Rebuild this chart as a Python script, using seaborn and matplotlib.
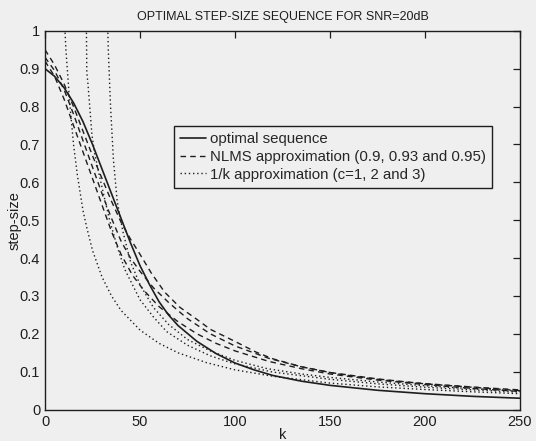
import matplotlib
matplotlib.use("Agg")
import matplotlib.pyplot as plt
import seaborn as sns

# optimal step-size sequence (solid)
k_opt = [0, 5, 10, 15, 20, 25, 30, 35, 40, 45, 50, 55, 60, 65, 70, 80, 90,
         100, 110, 120, 135, 150, 175, 200, 225, 250]
mu_opt = [0.90, 0.88, 0.85, 0.81, 0.76, 0.70, 0.635, 0.57, 0.505, 0.44, 0.38,
          0.33, 0.285, 0.25, 0.222, 0.18, 0.148, 0.123, 0.105, 0.09, 0.075,
          0.064, 0.051, 0.042, 0.035, 0.030]

# NLMS approximations (dashed)
k_n1 = [0, 5, 10, 15, 20, 25, 30, 35, 40, 45, 50, 56, 63, 71, 80, 87, 100,
        111, 120, 135, 153, 170, 188, 210, 230, 250]
mu_n1 = [0.95, 0.91, 0.86, 0.80, 0.735, 0.67, 0.61, 0.55, 0.495, 0.45, 0.41,
         0.36, 0.31, 0.27, 0.238, 0.212, 0.18, 0.152, 0.134, 0.113, 0.095,
         0.083, 0.073, 0.065, 0.058, 0.052]
k_n2 = [0, 5, 10, 15, 20, 25, 30, 35, 40, 45, 50, 57, 65, 75, 87, 100, 118,
        135, 150, 175, 200, 225, 250]
mu_n2 = [0.93, 0.895, 0.845, 0.78, 0.71, 0.64, 0.57, 0.505, 0.445, 0.40,
         0.365, 0.322, 0.283, 0.24, 0.20, 0.168, 0.135, 0.113, 0.098, 0.081,
         0.068, 0.059, 0.050]
k_n3 = [0, 5, 10, 15, 20, 25, 30, 35, 40, 46, 52, 60, 70, 80, 90, 100, 118,
        135, 150, 175, 200, 225, 250]
mu_n3 = [0.92, 0.88, 0.82, 0.75, 0.68, 0.61, 0.54, 0.47, 0.41, 0.355, 0.315,
         0.272, 0.232, 0.2, 0.175, 0.155, 0.127, 0.108, 0.094, 0.078, 0.066,
         0.056, 0.048]

# 1/k approximations (dotted)
k_c1 = [10, 11, 12, 13, 15, 17, 20, 22, 25, 30, 35, 40, 50, 60, 70, 85, 100,
        120, 150, 175, 200, 225, 250]
mu_c1 = [1.05, 0.95, 0.88, 0.81, 0.70, 0.62, 0.525, 0.48, 0.42, 0.35, 0.30,
         0.262, 0.21, 0.175, 0.15, 0.124, 0.105, 0.088, 0.07, 0.06, 0.053,
         0.047, 0.042]
k_c2 = [21.7, 22, 22.6, 24.7, 26, 28.5, 31, 34, 38, 42, 50, 57, 64, 75, 87,
        99, 120, 150, 175, 200, 225, 250]
mu_c2 = [1.05, 0.89, 0.86, 0.725, 0.68, 0.62, 0.565, 0.50, 0.43, 0.37, 0.29,
         0.245, 0.206, 0.17, 0.142, 0.122, 0.099, 0.08, 0.068, 0.059, 0.052,
         0.046]
k_c3 = [32.8, 33.3, 34.5, 36, 38, 41, 45, 50, 57, 65, 75, 87, 100, 117, 135,
        150, 175, 200, 225, 250]
mu_c3 = [1.05, 0.95, 0.80, 0.66, 0.55, 0.47, 0.39, 0.33, 0.27, 0.225, 0.185,
         0.155, 0.13, 0.108, 0.094, 0.085, 0.073, 0.063, 0.055, 0.049]

sns.set_theme(style="white")
plt.rcParams["font.family"] = ["Liberation Sans", "DejaVu Sans"]

bg = "#efefef"
fig = plt.figure(figsize=(5.36, 4.41), dpi=100, facecolor=bg)
ax = fig.add_axes([0.084, 0.0712, 0.886, 0.859], facecolor=bg)

ink = "#1e1e1e"
sns.lineplot(x=k_opt, y=mu_opt, ax=ax, color=ink, lw=1.2,
             label="optimal sequence")
for i, (kk, mm) in enumerate([(k_n1, mu_n1), (k_n2, mu_n2), (k_n3, mu_n3)]):
    sns.lineplot(x=kk, y=mm, ax=ax, color=ink, lw=1.0, linestyle=(0, (4, 3)),
                 label="NLMS approximation (0.9, 0.93 and 0.95)" if i == 0 else None)
for i, (kk, mm) in enumerate([(k_c1, mu_c1), (k_c2, mu_c2), (k_c3, mu_c3)]):
    sns.lineplot(x=kk, y=mm, ax=ax, color=ink, lw=1.0, linestyle=(0, (1, 2)),
                 label="1/k approximation (c=1, 2 and 3)" if i == 0 else None)

ax.set_xlim(0, 250)
ax.set_ylim(0, 1)
ax.set_xticks([0, 50, 100, 150, 200, 250])
ax.set_yticks([0, 0.1, 0.2, 0.3, 0.4, 0.5, 0.6, 0.7, 0.8, 0.9, 1])
ax.set_yticklabels(["0", "0.1", "0.2", "0.3", "0.4", "0.5", "0.6", "0.7",
                    "0.8", "0.9", "1"])
ax.tick_params(direction="in", length=5, width=0.9, top=True, right=True,
               labelsize=10.5, colors=ink)
ax.tick_params(axis="x", pad=4)
ax.tick_params(axis="y", pad=3.5)
for s in ax.spines.values():
    s.set_color(ink)
    s.set_linewidth(1.0)

ax.set_title("OPTIMAL STEP-SIZE SEQUENCE FOR SNR=20dB", fontsize=9,
             color=ink, pad=8)
ax.set_xlabel("k", fontsize=10.5, color=ink, labelpad=-1)
ax.set_ylabel("step-size", fontsize=10.5, color=ink, labelpad=-1)

leg = ax.legend(loc="upper left", bbox_to_anchor=(0.272, 0.748),
                fontsize=10.8, frameon=True, fancybox=False, framealpha=1,
                facecolor=bg, edgecolor=ink, borderpad=0.4, labelspacing=0.25,
                handlelength=1.7, handletextpad=0.3, borderaxespad=0)
leg.get_frame().set_linewidth(1.0)

fig.savefig("out.png", dpi=100, facecolor=bg)
